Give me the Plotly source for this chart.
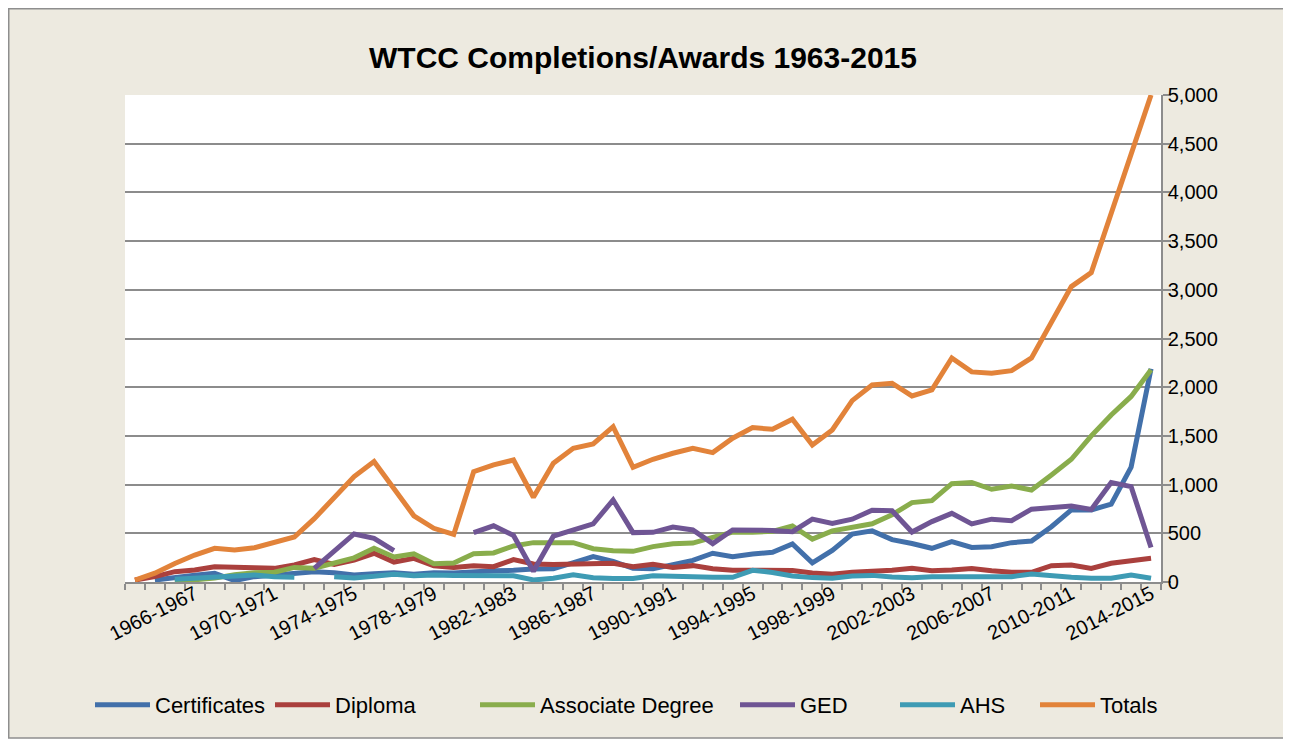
import plotly.graph_objects as go

years = list(range(1963, 2015))
categories = [f"{y}-{y+1}" for y in years]

certificates = [None, 20, 50, 70, 89, 15, 55, 72, 89, 106, 96, 72, 85, 96, 80, 96, 92, 106, 116, 120,
                134, 135, 200, 260, 212, 140, 135, 172, 222, 295, 260, 288, 305, 390, 196, 325, 492, 525,
                435, 395, 346, 414, 354, 363, 404, 420, 568, 740, 740, 800, 1180, 2190]
diploma = [20, 55, 106, 123, 157, 157, 147, 140, 175, 230, 180, 226, 295, 205, 243, 166, 150, 168, 157, 230,
           185, 180, 185, 188, 192, 157, 183, 149, 168, 137, 120, 120, 123, 118, 92, 79, 100, 106,
           120, 140, 115, 123, 138, 116, 100, 100, 168, 175, 140, 192, 219, 243]
associate = [None, None, 5, 20, 40, 75, 95, 100, 150, 141, 200, 248, 346, 257, 290, 188, 196, 290, 298, 370,
             404, 404, 404, 342, 320, 315, 363, 393, 400, 458, 512, 512, 520, 575, 440, 525, 555, 598,
             690, 815, 835, 1010, 1022, 952, 986, 945, 1099, 1260, 1500, 1715, 1905, 2180]
ged = [None, None, None, None, None, None, None, None, None, 140, 315, 493, 449, 322, None, None, None, 507, 577, 478,
       111, 470, 530, 596, 842, 507, 510, 565, 534, 394, 534, 534, 530, 517, 645, 600, 645, 737,
       731, 513, 620, 705, 596, 645, 630, 748, 760, 781, 745, 1022, 979, 355]
ahs = [None, None, 27, 38, 55, 72, 72, 55, 48, None, 55, 42, 58, 80, 63, 72, 68, 67, 68, 64,
       21, 38, 75, 43, 35, 35, 63, 55, 55, 48, 48, 120, 98, 62, 45, 38, 62, 68,
       52, 43, 55, 55, 46, 50, 55, 82, 62, 48, 38, 38, 72, 38]
totals = [20, 90, 190, 277, 346, 329, 352, 404, 462, 650, 860, 1082, 1236, 955, 680, 551, 488, 1133, 1202, 1253,
          870, 1219, 1373, 1417, 1595, 1178, 1260, 1322, 1373, 1328, 1476, 1585, 1568, 1672, 1407, 1561, 1862, 2023,
          2041, 1910, 1972, 2300, 2157, 2143, 2170, 2300, 2673, 3033, 3177, 3786, 4368, 5000]

series_names = ["Certificates", "Diploma", "Associate Degree", "GED", "AHS", "Totals"]
series_values = [certificates, diploma, associate, ged, ahs, totals]
series_colors = ["#4270AA", "#AA403D", "#89AD4C", "#6F5594", "#3E9BB4", "#E2833A"]

label_idx = list(range(3, len(categories), 4))
tick_labels = [categories[i] for i in label_idx]

x = list(range(len(categories)))

# Figure geometry (page has an 8px body margin)
W, H = 1283, 736
L, T = 117, 87
PR, PB = 1153, 574
R, B = W - PR, H - PB
pw, ph = PR - L, PB - T

def px_x(p):
    return (p - L) / pw

def px_y(p):
    return (PB - p) / ph

legend_text_x = [157, 337, 542, 802, 962, 1102]  # page px where legend text starts
legend_ids = ["legend", "legend2", "legend3", "legend4", "legend5", "legend6"]
ITEMW = 55

fig = go.Figure()
for name, vals, col, lid in zip(series_names, series_values, series_colors, legend_ids):
    fig.add_trace(go.Scatter(x=x, y=vals, name=name, mode="lines",
                             line=dict(color=col, width=5), connectgaps=False,
                             legend=lid, customdata=categories,
                             hovertemplate="%{customdata}: %{y}<extra>" + name + "</extra>"))

grid = "#8C8C8C"
font_family = "Liberation Sans, Arial, sans-serif"

shapes = []
for (x0, y0, x1, y1) in [(1277, -10, W + 10, H + 10), (-10, 730, W + 10, H + 10)]:
    shapes.append(dict(type="rect", xref="paper", yref="paper",
                       x0=px_x(x0), x1=px_x(x1), y0=px_y(y0), y1=px_y(y1),
                       fillcolor="white", line=dict(width=0), layer="above"))
shapes.append(dict(type="rect", xref="paper", yref="paper",
                   x0=px_x(0.75), x1=px_x(1277), y0=px_y(0.75), y1=px_y(730),
                   fillcolor="rgba(0,0,0,0)", line=dict(color="#8E8E8E", width=1.5), layer="above"))

legend_y = px_y(705 - 8)
layout_legends = {}
for lid, tx in zip(legend_ids, legend_text_x):
    layout_legends[lid] = dict(orientation="h", x=px_x(tx - 8 - ITEMW - 12), xanchor="left",
                               y=legend_y, yanchor="middle",
                               font=dict(size=22, family=font_family, color="black"),
                               bgcolor="rgba(0,0,0,0)", itemwidth=ITEMW)

fig.update_layout(
    width=W, height=H,
    margin=dict(l=L, r=R, t=T, b=B),
    paper_bgcolor="#EDEAE0",
    plot_bgcolor="white",
    font=dict(family=font_family, color="black", size=20),
    title=dict(text="<b>WTCC Completions/Awards 1963-2015</b>", x=(643 - 8) / W, xref="container",
               xanchor="center", y=1 - (57 - 8) / H, yref="container", yanchor="middle",
               font=dict(size=30, family=font_family, color="black")),
    showlegend=True,
    shapes=shapes,
    xaxis=dict(
        range=[-0.5, len(categories) - 0.5],
        tickmode="array", tickvals=label_idx, ticktext=tick_labels,
        tickangle=-27, ticks="", showgrid=False, zeroline=False,
        showline=True, linecolor=grid, linewidth=1.5,
        tickfont=dict(size=20), ticklabelstandoff=-9,
        minor=dict(tickmode="linear", tick0=-0.5, dtick=1, ticks="outside",
                   ticklen=6, tickcolor=grid, tickwidth=1.5, showgrid=False),
    ),
    yaxis=dict(
        side="right", range=[0, 5000], dtick=500, tickformat=",",
        showgrid=True, gridcolor=grid, gridwidth=1.5, zeroline=False,
        showline=True, linecolor=grid, linewidth=1.5, mirror=False,
        ticks="outside", ticklen=8, tickcolor=grid, tickwidth=1.5,
        tickfont=dict(size=20), ticklabelstandoff=-7,
    ),
    **layout_legends,
)

fig.write_html("out.html")
